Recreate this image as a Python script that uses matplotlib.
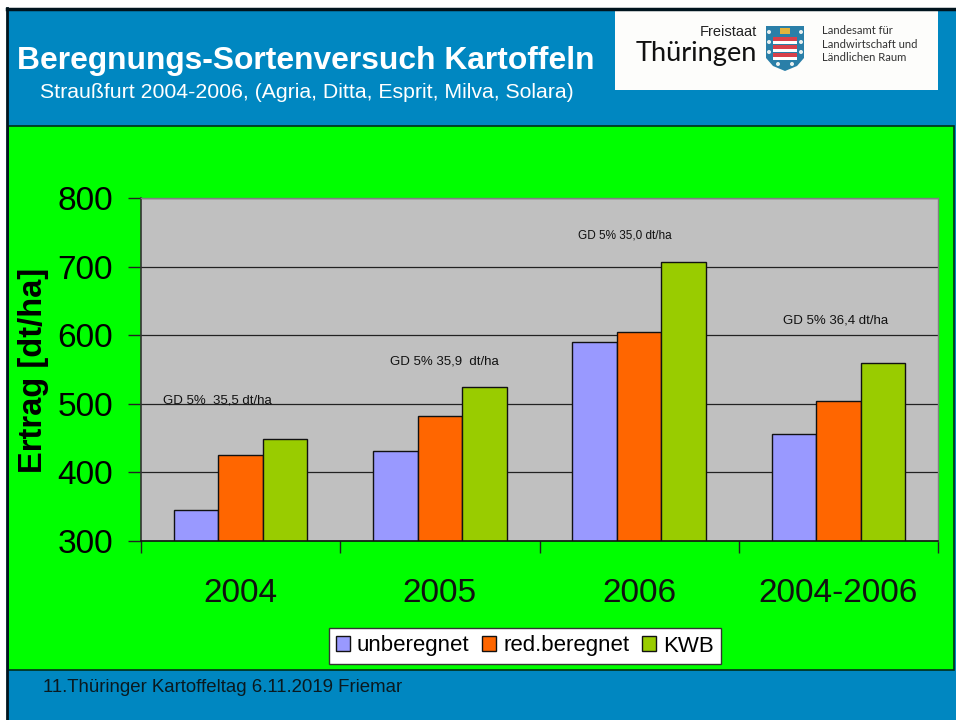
import matplotlib
matplotlib.use("Agg")
import matplotlib.pyplot as plt
from matplotlib.patches import Rectangle, Polygon, Circle
import numpy as np

plt.rcParams['font.family'] = ['Liberation Sans', 'DejaVu Sans']

years = ["2004", "2005", "2006", "2004-2006"]
unberegnet = [345, 431, 590, 456]
red_beregnet = [425, 482, 604, 504]
kwb = [448, 525, 706, 560]
series_names = ["unberegnet", "red.beregnet", "KWB"]
series_colors = ["#9999FF", "#FF6600", "#99CC00"]
gd_labels = ["GD 5%  35,5 dt/ha", "GD 5% 35,9  dt/ha", "GD 5% 35,0 dt/ha", "GD 5% 36,4 dt/ha"]
gd_pos = [(-0.39, 505), (0.75, 562), (1.693, 746), (2.72, 622)]
gd_sizes = [9.5, 9.5, 8.5, 9.5]
yticks = [300, 400, 500, 600, 700, 800]

W, H = 956, 720
BLUE = "#0087C1"
fig = plt.figure(figsize=(W / 100, H / 100), dpi=100, facecolor="white")

# slide background in pixel coordinates
bg = fig.add_axes([0, 0, 1, 1], zorder=0)
bg.set_xlim(0, W)
bg.set_ylim(H, 0)
bg.axis("off")
bg.add_patch(Rectangle((7, 8), 949, 712, fc=BLUE, ec="none"))
bg.plot([7, W], [8.5, 8.5], color="#00141e", lw=2.5)
bg.plot([7.5, 7.5], [8, 720], color="#00141e", lw=2)
bg.add_patch(Rectangle((8, 125.5), 946, 544.5, fc="#00FF00", ec="#003018", lw=1.2))

bg.text(17, 61, "Beregnungs-Sortenversuch Kartoffeln", color="white", fontsize=22.9,
        fontweight="bold", va="center", ha="left")
bg.text(40, 92, "Straußfurt 2004-2006, (Agria, Ditta, Esprit, Milva, Solara)", color="white",
        fontsize=15.3, va="center", ha="left")
bg.text(43, 687, "11.Thüringer Kartoffeltag 6.11.2019 Friemar", color="#0a1a20",
        fontsize=13.4, va="center", ha="left")

# logo
bg.add_patch(Rectangle((615, 10), 323, 80, fc="#FDFDFB", ec="none"))
bg.text(757, 32, "Freistaat", color="#222222", fontsize=10.5, va="center", ha="right")
bg.text(757, 53, "Thüringen", color="#111111", fontsize=19.6, va="center", ha="right",
        family=["Lato", "DejaVu Sans"])
bg.add_patch(Polygon([(766, 26), (804, 26), (804, 58), (797, 66), (785, 71), (773, 66), (766, 58)],
                     fc="#2A7FA8", ec="none"))
for y0 in (37, 45, 53):
    bg.add_patch(Rectangle((773, y0), 24, 4, fc="#D8404A", ec="none"))
    bg.add_patch(Rectangle((773, y0 + 4), 24, 2.5, fc="white", ec="none"))
bg.add_patch(Rectangle((780, 28), 10, 6, fc="#E2B33C", ec="none"))
for px, py in [(769, 32), (769, 42), (769, 52), (801, 32), (801, 42), (801, 52), (778, 64), (792, 64)]:
    bg.add_patch(Circle((px, py), 2, fc="#E8F0F0", ec="none"))
for i, line in enumerate(["Landesamt für", "Landwirtschaft und", "Ländlichen Raum"]):
    bg.text(822, 31 + i * 13.2, line, color="#333333", fontsize=8.1, va="center", ha="left",
            family=["Lato", "DejaVu Sans"])

# chart
left, right, top, bottom = 141, 938, 198, 541
ax = fig.add_axes([left / W, 1 - bottom / H, (right - left) / W, (bottom - top) / H], zorder=1)
ax.set_facecolor("#C0C0C0")
x = np.arange(len(years))
width = 0.2233
values = [unberegnet, red_beregnet, kwb]
for i in range(3):
    ax.bar(x + (i - 1) * width, values[i], width, bottom=0, color=series_colors[i],
           edgecolor="#111111", linewidth=1, label=series_names[i], zorder=3)

ax.set_xlim(-0.5, 3.5)
ax.set_ylim(300, 800)
ax.set_yticks(yticks)
ax.set_xticks(np.arange(5) - 0.5)
ax.set_xticklabels([])
ax.tick_params(axis="y", labelsize=24, length=9.4, width=1, color="#222222", pad=10.8)
ax.tick_params(axis="x", length=8.6, width=1, color="#222222", direction="out")
ax.grid(axis="y", color="#222222", lw=0.9, zorder=1)
ax.set_axisbelow(True)
ax.spines["left"].set_color("#333333")
ax.spines["left"].set_linewidth(1.2)
ax.spines["bottom"].set_color("#111111")
ax.spines["bottom"].set_linewidth(1.2)
ax.spines["bottom"].set_zorder(5)
for name in ["top", "right"]:
    ax.spines[name].set_color("#808080")
    ax.spines[name].set_linewidth(1)

for i, label in enumerate(years):
    ax.text(x[i], 224, label, fontsize=24, ha="center", va="center", color="#111111", clip_on=False)
for label, (gx, gy), size in zip(gd_labels, gd_pos, gd_sizes):
    ax.text(gx, gy, label, fontsize=size, ha="left", va="center", color="#111111", zorder=4)

bg.text(34, 370, "Ertrag [dt/ha]", fontsize=23.5, fontweight="bold", color="black", rotation=90,
        va="center", ha="center")

leg = ax.legend(loc="center", bbox_to_anchor=((525 - left) / (right - left), (bottom - 646) / (bottom - top)),
                ncol=3, fontsize=16, frameon=True, fancybox=False, framealpha=1, edgecolor="#333333",
                handlelength=0.63, handleheight=0.63, handletextpad=0.32, columnspacing=0.58,
                borderpad=0.32, borderaxespad=0)
leg.get_frame().set_linewidth(1)

fig.savefig("out.png", dpi=100)
